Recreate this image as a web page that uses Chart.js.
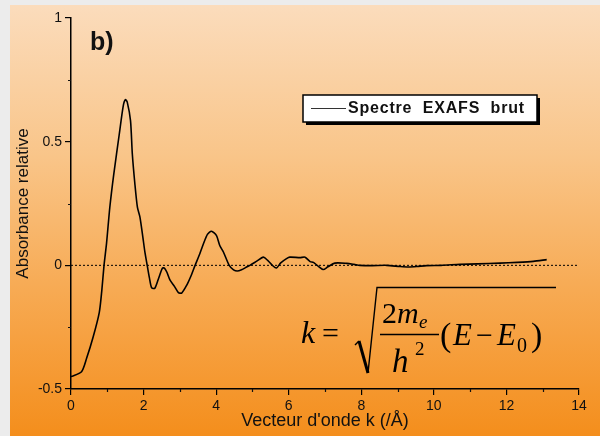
<!DOCTYPE html>
<html>
<head>
<meta charset="utf-8">
<script src="https://cdn.jsdelivr.net/npm/chart.js@4.4.1/dist/chart.umd.min.js"></script>
<style>
  html, body { margin: 0; padding: 0; background: #ececec; }
  #wrap { width: 600px; height: 436px; }
</style>
</head>
<body>
<div id="wrap"><canvas id="exafs"></canvas></div>
<script>
// données
const kValues = [0, 0.29, 0.43, 0.61, 0.78, 0.85, 0.91, 0.98, 1.07, 1.18, 1.33, 1.44, 1.50, 1.55, 1.64, 1.69, 1.76, 1.83, 1.90, 1.98,
  2.04, 2.10, 2.16, 2.22, 2.31, 2.42, 2.52, 2.58, 2.64, 2.73, 2.85, 2.96, 3.05, 3.19, 3.30, 3.42, 3.55, 3.65, 3.76, 3.87,
  4.01, 4.10, 4.20, 4.36, 4.48, 4.58, 4.70, 4.84, 4.93, 5.12, 5.30, 5.42, 5.55, 5.66, 5.78, 5.94, 6.03, 6.31, 6.45, 6.59,
  6.68, 6.80, 6.95, 7.08, 7.27, 7.60, 7.80, 7.96, 8.3, 8.7, 9.07, 9.3, 9.53, 9.8, 10.2, 10.72, 11.2, 11.82, 12.3, 12.74, 13.11];
const absorbance = [-0.45, -0.43, -0.376, -0.29, -0.19, -0.10, 0.0, 0.09, 0.235, 0.37, 0.53, 0.645, 0.67, 0.66, 0.585, 0.45, 0.33, 0.235, 0.195, 0.114,
  0.05, 0.0, -0.05, -0.09, -0.093, -0.05, -0.011, -0.012, -0.027, -0.06, -0.085, -0.11, -0.112, -0.08, -0.045, 0.0, 0.047, 0.087, 0.125, 0.138,
  0.12, 0.08, 0.054, 0.0, -0.018, -0.023, -0.018, -0.007, 0.0, 0.017, 0.033, 0.02, 0.0, -0.011, 0.01, 0.027, 0.033, 0.031, 0.033, 0.015,
  0.012, -0.002, -0.017, -0.006, 0.009, 0.008, 0.004, 0.0, -0.001, 0.0, -0.005, -0.007, -0.005, -0.001, 0.0, 0.004, 0.006, 0.009, 0.012, 0.016, 0.023];
const zeroLine = [{x: 0, y: 0}, {x: 14, y: 0}];
const xTicks = [0, 2, 4, 6, 8, 10, 12, 14];
const yTicks = [-0.5, 0, 0.5, 1];
const seriesLabel = 'Spectre  EXAFS  brut';

const TXT = '#111111';
const SANS = "'Liberation Sans', Arial, sans-serif";
const SERIF = "'Liberation Serif', 'Times New Roman', serif";

// petit helper pour poser un morceau de texte
function put(ctx, t, font, x, y) {
  ctx.font = font;
  ctx.fillText(t, x, y);
}

// fond dégradé orange + ticks mineurs + légende + formule
const decorPlugin = {
  id: 'decor',
  beforeDraw(chart) {
    const ctx = chart.ctx;
    ctx.save();
    ctx.fillStyle = '#ececec';
    ctx.fillRect(0, 0, chart.width, chart.height);
    const g = ctx.createLinearGradient(0, 5, 0, chart.height);
    g.addColorStop(0, '#fbdcbc');
    g.addColorStop(0.35, '#f9c589');
    g.addColorStop(0.65, '#f7ab55');
    g.addColorStop(1, '#f48e1c');
    ctx.fillStyle = g;
    ctx.fillRect(10, 5, chart.width - 10, chart.height - 5);
    ctx.restore();
  },
  afterDraw(chart) {
    const ctx = chart.ctx;
    const xs = chart.scales.x, ys = chart.scales.y;
    ctx.save();
    // ticks mineurs
    ctx.strokeStyle = TXT;
    ctx.lineWidth = 1.2;
    ctx.beginPath();
    for (let v = 1; v < 14; v += 2) {
      const px = Math.round(xs.getPixelForValue(v)) + 0.5;
      ctx.moveTo(px, ys.bottom);
      ctx.lineTo(px, ys.bottom + 3);
    }
    [-0.25, 0.25, 0.75].forEach(v => {
      const py = Math.round(ys.getPixelForValue(v)) + 0.5;
      ctx.moveTo(xs.left, py);
      ctx.lineTo(xs.left - 3, py);
    });
    ctx.stroke();

    // b)
    ctx.fillStyle = TXT;
    ctx.font = "bold 25px " + SANS;
    ctx.textBaseline = 'alphabetic';
    ctx.fillText('b)', 90, 50);

    // légende
    const bx = 303, by = 95, bw = 234, bh = 27;
    ctx.fillStyle = '#000';
    ctx.fillRect(bx + 3, by + 3, bw, bh);
    ctx.fillStyle = '#ffffff';
    ctx.fillRect(bx, by, bw, bh);
    ctx.strokeStyle = '#000';
    ctx.lineWidth = 1.5;
    ctx.strokeRect(bx, by, bw, bh);
    ctx.strokeStyle = '#333';
    ctx.lineWidth = 1.2;
    ctx.beginPath();
    ctx.moveTo(311, 108.5);
    ctx.lineTo(346, 108.5);
    ctx.stroke();
    ctx.fillStyle = TXT;
    ctx.font = "bold 16px " + SANS;
    ctx.letterSpacing = '0.8px';
    ctx.textBaseline = 'middle';
    ctx.fillText(chart.data.datasets[0].label, 348, 109);
    ctx.letterSpacing = '0px';

    // formule k = sqrt(2m_e/h^2 (E - E0))
    ctx.textBaseline = 'alphabetic';
    ctx.fillStyle = '#000';
    put(ctx, 'k', "italic 32px " + SERIF, 301, 343);
    put(ctx, '=', "30px " + SERIF, 322, 343);
    // radical
    ctx.strokeStyle = '#000';
    ctx.lineWidth = 1.4;
    ctx.beginPath();
    ctx.moveTo(355, 345);
    ctx.lineTo(359, 341);
    ctx.stroke();
    ctx.lineWidth = 3;
    ctx.beginPath();
    ctx.moveTo(359, 341);
    ctx.lineTo(368, 373);
    ctx.stroke();
    ctx.lineWidth = 1.4;
    ctx.beginPath();
    ctx.moveTo(368, 373);
    ctx.lineTo(377, 287.5);
    ctx.lineTo(556, 287.5);
    ctx.stroke();
    // fraction
    put(ctx, '2', "30px " + SERIF, 382, 323);
    put(ctx, 'm', "italic 30px " + SERIF, 397, 323);
    put(ctx, 'e', "italic 19px " + SERIF, 419, 328);
    ctx.lineWidth = 1.3;
    ctx.beginPath();
    ctx.moveTo(380, 334.5);
    ctx.lineTo(439, 334.5);
    ctx.stroke();
    put(ctx, 'h', "italic 33px " + SERIF, 392, 372);
    put(ctx, '2', "19px " + SERIF, 415, 355);
    // (E - E0)
    put(ctx, '(', "34px " + SERIF, 440, 346);
    put(ctx, 'E', "italic 31px " + SERIF, 453, 345);
    put(ctx, '\u2212', "30px " + SERIF, 476, 345);
    put(ctx, 'E', "italic 31px " + SERIF, 497, 345);
    put(ctx, '0', "20px " + SERIF, 517, 352);
    put(ctx, ')', "34px " + SERIF, 531, 346);
    ctx.restore();
  }
};

const ctx = document.getElementById('exafs').getContext('2d');

const cfg = {
  type: 'line',
  data: {
    datasets: [{
      label: seriesLabel,
      data: kValues.map((k, i) => ({x: k, y: absorbance[i]})),
      borderColor: '#000000',
      borderWidth: 1.6,
      pointRadius: 0,
      tension: 0.25,
      fill: false
    }, {
      label: 'zero',
      data: zeroLine,
      borderColor: '#000000',
      borderWidth: 1,
      borderDash: [2, 2],
      pointRadius: 0,
      fill: false
    }]
  },
  options: {
    responsive: false,
    animation: false,
    events: [],
    layout: { padding: { left: 0, top: 18, right: 21, bottom: 0 } },
    plugins: {
      legend: { display: false },
      tooltip: { enabled: false }
    },
    scales: {
      x: {
        type: 'linear',
        min: 0,
        max: 14,
        afterFit: s => { s.height = 47; },
        afterBuildTicks: s => { s.ticks = xTicks.map(v => ({value: v})); },
        border: { display: true, color: '#000', width: 1.5 },
        grid: { display: true, drawOnChartArea: false, color: '#000', tickColor: '#000', tickLength: 6, lineWidth: 1.2 },
        ticks: { color: TXT, padding: 3, maxRotation: 0, font: { family: SANS, size: 14 } },
        title: {
          display: true,
          text: "Vecteur d'onde k (/Å)",
          color: TXT,
          padding: { top: 0, bottom: 4 },
          font: { family: SANS, size: 18 }
        }
      },
      y: {
        type: 'linear',
        min: -0.5,
        max: 1,
        afterFit: s => { s.width = 71; },
        afterBuildTicks: s => { s.ticks = yTicks.map(v => ({value: v})); },
        border: { display: true, color: '#000', width: 1.5 },
        grid: { display: true, drawOnChartArea: false, color: '#000', tickColor: '#000', tickLength: 6, lineWidth: 1.2 },
        ticks: {
          color: TXT,
          padding: 3,
          font: { family: SANS, size: 14 },
          callback: v => String(v)
        },
        title: {
          display: true,
          text: 'Absorbance relative',
          color: TXT,
          padding: { top: 13, bottom: 0 },
          font: { family: SANS, size: 17 }
        }
      }
    }
  },
  plugins: [decorPlugin]
};

document.getElementById('exafs').width = 600;
document.getElementById('exafs').height = 436;
const exafsChart = new Chart(ctx, cfg);
</script>
</body>
</html>
